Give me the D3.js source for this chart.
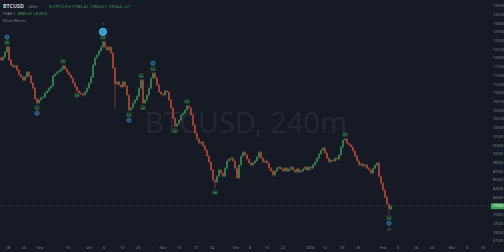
<!DOCTYPE html>
<html>
<head>
<meta charset="utf-8">
<script src="https://cdn.jsdelivr.net/npm/d3@7"></script>
<style>
  html, body { margin: 0; padding: 0; background: #161a25; }
  svg { display: block; }
  text { font-family: "Noto Sans", sans-serif; }
</style>
</head>
<body>
<svg id="chart" width="504" height="252"></svg>
<script>
// 240m BTCUSD closes, one value every second pixel column
const firstOpen = 120100;
const closes = [
  119500, 120300, 121800, 123200, 119500, 118000, 117500, 117800, 116600, 115200,
  114600, 113700, 114600, 116000, 114900, 112900, 111400, 108300, 107100, 108000,
  108600, 108800, 110000, 110600, 111400, 112000, 114900, 115500, 116000, 116300,
  116900, 117800, 116900, 116000, 115200, 114300, 112900, 111700, 110600, 110000,
  109700, 109400, 110300, 111400, 112900, 114600, 118000, 120100, 120900, 122100,
  123200, 124700, 123200, 122400, 123200, 121500, 117200, 112600, 113200, 112300,
  111700, 113200, 112000, 109400, 105100, 105700, 107100, 108000, 109100, 111400,
  113700, 107100, 108000, 109400, 111400, 114300, 115700, 114300, 112300, 110300,
  109700, 109400, 110600, 110300, 108000, 105700, 102800, 100500, 101100, 102200,
  103700, 104200, 105100, 106300, 105700, 103700, 100800, 98500, 96800, 95600,
  95900, 94800, 93600, 91900, 90200, 87900, 85000, 84400, 86100, 87900,
  87000, 86100, 88400, 90500, 91000, 91300, 90500, 88400, 85600, 89300,
  91900, 93000, 92200, 91000, 89900, 89300, 89900, 90500, 91600, 93000,
  91300, 90200, 90500, 89900, 88400, 87600, 86400, 87600, 88400, 88700,
  88200, 87600, 88400, 87600, 88200, 88700, 87900, 87300, 88200, 87300,
  87600, 88200, 88700, 87900, 88700, 88400, 89300, 90200, 91300, 92500,
  93600, 94200, 92800, 91300, 90200, 90700, 90500, 91300, 91000, 92200,
  94500, 96500, 96800, 95600, 95100, 94500, 93300, 91900, 90500, 89300,
  89600, 89000, 89300, 88400, 87900, 87000, 88400, 89300, 89900, 86100,
  84100, 82100, 80100, 78100, 76700, 77500
];
// long lower wicks
const lowWickIdx = [57, 107, 194];
const lowWickVal = [106000, 82700, 75500];

// Elliott wave marks: bar index, side, label
const markIdx   = [3, 18, 31, 38, 51, 64, 70, 71, 76, 87, 93, 107, 172, 194];
const markSide  = ["top", "bot", "top", "bot", "top", "bot", "top", "bot", "top", "bot", "top", "bot", "top", "bot"];
const markText  = ["(5)", "(1)", "(2)", "(3)", "(4)", "(1)", "(2)", "(3)", "(4)", "(5)", "(A)", "(B)", "(C)", "(1)"];
const markCircle = [true, true, false, false, true, true, false, false, true, false, false, false, false, true];

const priceTicks = [
  135000, 132500, 130000, 127500, 125000, 122500, 120000, 117500, 115000, 112500,
  110000, 107500, 105000, 102500, 100000, 97500, 95000, 92500, 90000, 87500,
  85000, 82500, 80000, 77500, 75000, 72500, 70000, 67500
];
const timeTickIdx = [3.5, 11.5, 19.5, 33.5, 44, 51.5, 60.5, 68.5, 81, 89, 97.5, 105.5,
  117.5, 124.5, 133, 141, 154.5, 162, 170.5, 178.5, 191, 198.5, 207.5, 215.5, 225.5, 233, 241];
const timeTickLabels = ["18", "25", "Sep", "15", "Oct", "6", "13", "20", "Nov", "10", "17", "24",
  "Dec", "8", "15", "22", "2026", "12", "19", "26", "Feb", "9", "16", "23", "Mar", "9", "16"];

const svg = d3.select('#chart');
const up = "#43a05c", down = "#d9503f", axisText = "#7d818c";

const x = d3.scaleLinear().domain([0, 245]).range([1, 491]);
const y = d3.scaleLinear().domain([67500, 135000]).range([241, 6]);

const bars = closes.map(function (c, i) {
  const o = i === 0 ? firstOpen : closes[i - 1];
  const k = lowWickIdx.indexOf(i);
  return { i: i, o: o, c: c, hi: Math.max(o, c), lo: k >= 0 ? lowWickVal[k] : Math.min(o, c) };
});

svg.append("rect").attr("width", 504).attr("height", 252).attr("fill", "#161a25");

// watermark (kept behind everything)
svg.append("text")
  .attr("x", 246).attr("y", 133)
  .attr("text-anchor", "middle")
  .attr("font-size", 29)
  .attr("fill", "#232733")
  .text("BTCUSD, 240m");

const plot = svg.append("g");

// last price line
const last = bars[bars.length - 1];
plot.append("line")
  .attr("x1", 0).attr("x2", 491)
  .attr("y1", y(last.c)).attr("y2", y(last.c))
  .attr("stroke", "#3b5a48").attr("stroke-width", 0.6)
  .attr("stroke-dasharray", "1,1");

// candles
const candle = plot.selectAll(".candle")
  .data(bars)
  .enter().append("g")
  .attr("class", "candle");

candle.append("line")
  .attr("x1", function (d) { return x(d.i); })
  .attr("x2", function (d) { return x(d.i); })
  .attr("y1", function (d) { return y(d.hi) - 1.2; })
  .attr("y2", function (d) { return y(d.lo) + 1.2; })
  .attr("stroke", function (d) { return d.c >= d.o ? up : down; })
  .attr("stroke-width", 0.5);

candle.append("rect")
  .attr("x", function (d) { return x(d.i) - 0.6; })
  .attr("width", 1.2)
  .attr("y", function (d) { return y(d.hi); })
  .attr("height", function (d) { return Math.max(0.8, y(Math.min(d.o, d.c)) - y(d.hi)); })
  .attr("fill", function (d) { return d.c >= d.o ? up : down; });

// wave marks
const marks = plot.selectAll(".mark")
  .data(markIdx.map(function (idx, j) {
    return { i: idx, side: markSide[j], text: markText[j], circle: markCircle[j] };
  }))
  .enter().append("g")
  .attr("class", "mark")
  .attr("transform", function (d) {
    const b = bars[d.i];
    const yy = d.side === "top" ? y(b.hi) - 4.5 : y(b.lo) + 4.5;
    return "translate(" + x(d.i) + "," + yy + ")";
  });

marks.append("rect")
  .attr("x", -2.2).attr("y", -1.7).attr("width", 4.4).attr("height", 3.4).attr("rx", 0.6)
  .attr("fill", "#1c3d29").attr("stroke", "#3a8a50").attr("stroke-width", 0.4);
marks.append("text")
  .attr("text-anchor", "middle").attr("y", 0.9)
  .attr("font-size", 2.4).attr("fill", "#7cc48e")
  .text(function (d) { return d.text; });

marks.filter(function (d) { return d.circle; })
  .append("circle")
  .attr("cx", 0)
  .attr("cy", function (d) { return d.side === "top" ? -5.5 : 5.5; })
  .attr("r", function (d) { return d.i === 51 ? 3.8 : 2.2; })
  .attr("fill", function (d) { return d.i === 51 ? "#3a9ccc" : "#1d5570"; })
  .attr("stroke", function (d) { return d.i === 51 ? "#5fc0ea" : "#3d8fb5"; })
  .attr("stroke-width", 0.5);

marks.filter(function (d) { return d.i === 51 || d.i === 194; })
  .append("text")
  .attr("text-anchor", "middle")
  .attr("y", function (d) { return d.side === "top" ? -12 : 13.5; })
  .attr("font-size", 3.8).attr("fill", "#8a8e99")
  .text(function (d) { return d.i === 51 ? "1" : "27"; });

// price axis
const yAxis = svg.append("g").attr("class", "axis axis--y");
yAxis.selectAll("text")
  .data(priceTicks)
  .enter().append("text")
  .attr("x", 493)
  .attr("y", function (d) { return y(d); })
  .attr("dy", "0.35em")
  .attr("font-size", 3.6)
  .attr("fill", axisText)
  .text(function (d) { return d3.format("d")(d); });

// last price tag
yAxis.append("rect")
  .attr("x", 491).attr("y", y(last.c) - 3).attr("width", 13).attr("height", 6)
  .attr("fill", up);
yAxis.append("text")
  .attr("x", 493).attr("y", y(last.c)).attr("dy", "0.35em")
  .attr("font-size", 3.6).attr("fill", "#ffffff")
  .text(d3.format("d")(last.c));

// time axis
const xAxis = svg.append("g").attr("class", "axis axis--x");
xAxis.selectAll("text")
  .data(timeTickIdx)
  .enter().append("text")
  .attr("x", function (d) { return x(d); })
  .attr("y", 248.5)
  .attr("text-anchor", "middle")
  .attr("font-size", 3.8)
  .attr("fill", axisText)
  .text(function (d, i) { return timeTickLabels[i]; });

// legend top-left
const legend = svg.append("g").attr("class", "legend");
legend.append("text").attr("x", 3).attr("y", 8)
  .attr("font-size", 5.4).attr("font-weight", "bold").attr("fill", "#c9ccd3").text("BTCUSD");
legend.append("text").attr("x", 28).attr("y", 8)
  .attr("font-size", 3.6).attr("fill", axisText).text("240m");
legend.append("text").attr("x", 49).attr("y", 8)
  .attr("font-size", 3.8).attr("fill", up)
  .text("O 77912.3  H 77965.4  L 77600.0  C 77634.0  +5.1");
legend.append("text").attr("x", 3).attr("y", 15)
  .attr("font-size", 3.8).attr("fill", axisText).text("PSAR 1");
legend.append("text").attr("x", 17).attr("y", 15)
  .attr("font-size", 3.8).attr("fill", up).text("-8685.67 (-8.06%)");
legend.append("text").attr("x", 3).attr("y", 22)
  .attr("font-size", 3.8).attr("fill", axisText).text("Elliott Waves");
</script>
</body>
</html>
